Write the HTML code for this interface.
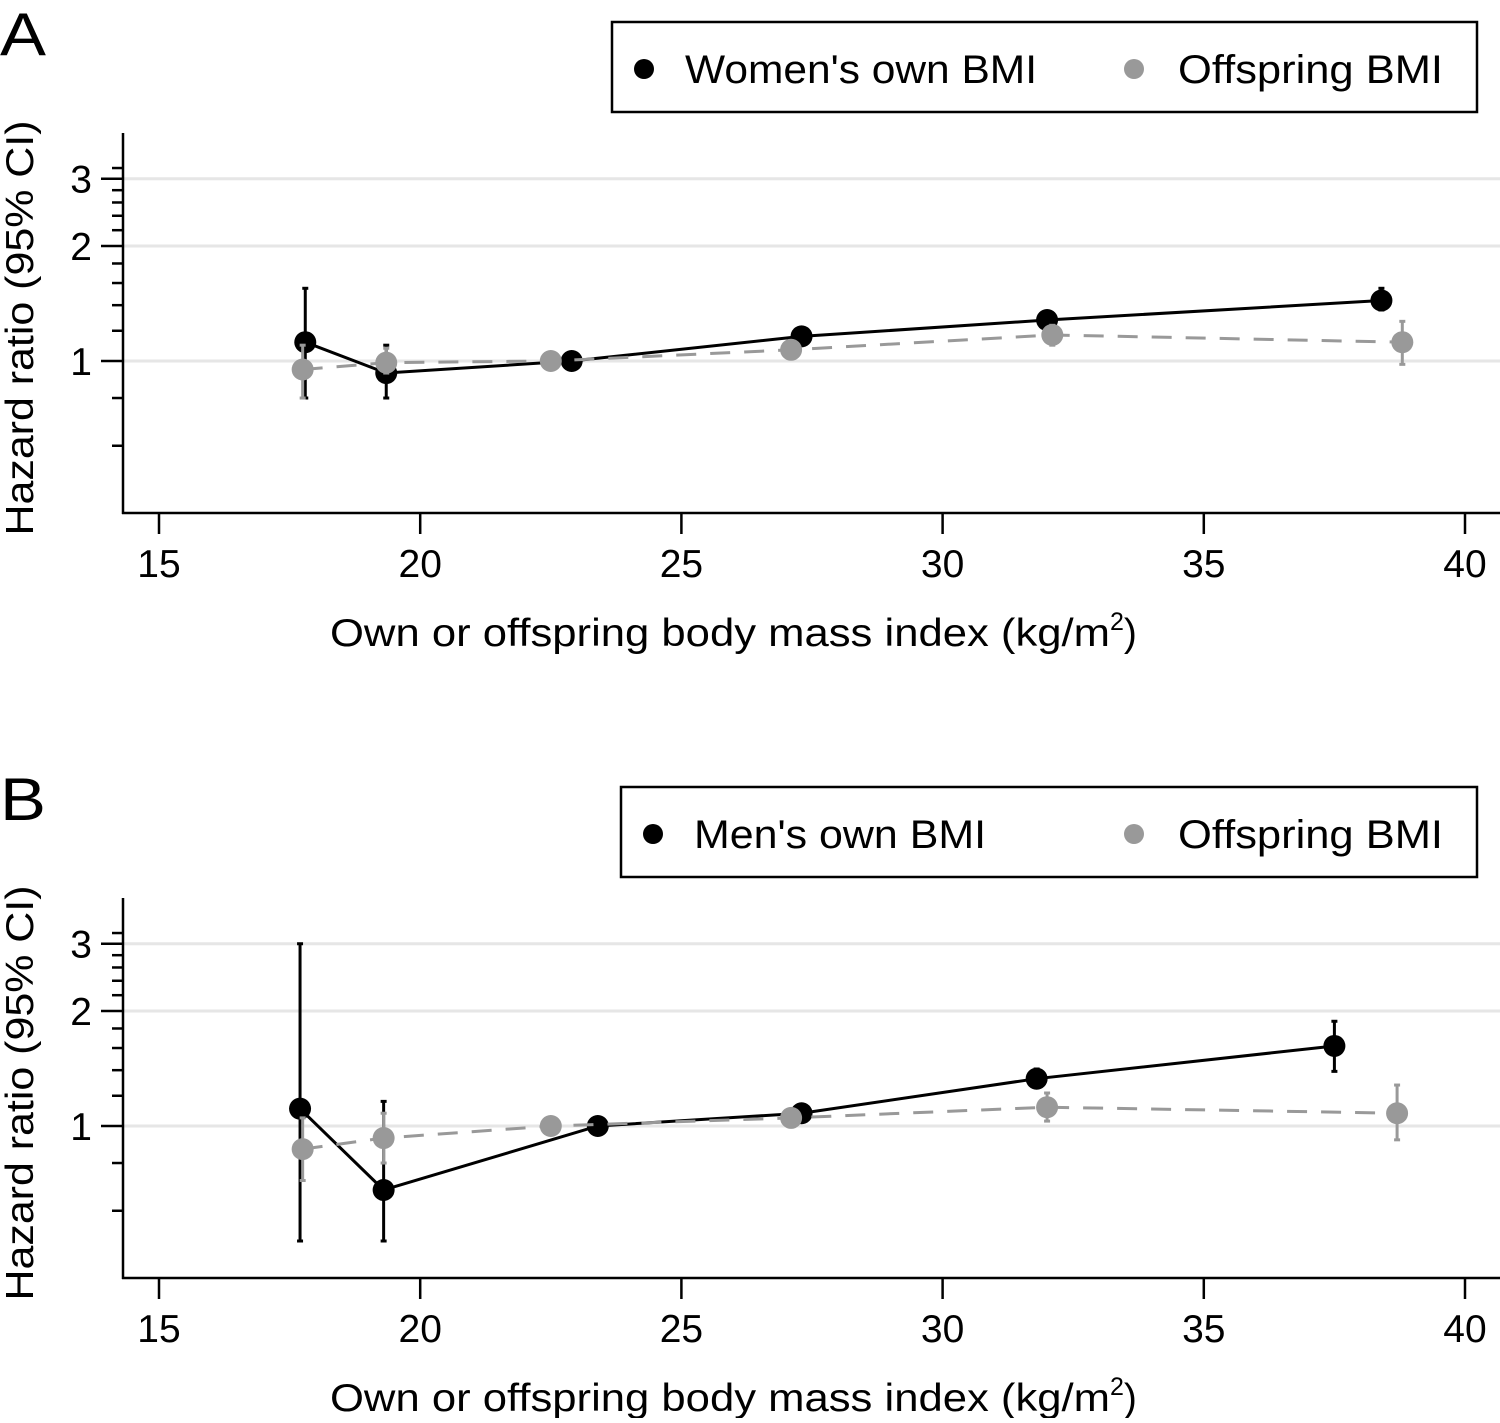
<!DOCTYPE html>
<html><head><meta charset="utf-8"><style>
body{margin:0;background:#fff;}
svg text{font-family:"Liberation Sans",sans-serif;fill:#000;}
</style></head><body>
<svg id="chart" width="1500" height="1418" xmlns="http://www.w3.org/2000/svg"></svg>
<script>
const xTicks=[15,20,25,30,35,40];
const yTicks=[1,2,3];
const yMinor=[0.6,0.8,1.2,1.4,1.6,1.8,2.2,2.4,2.6,2.8,3.2];
const aOwnX=[17.8,19.35,22.9,27.3,32.0,38.4];
const aOwnY=[1.12,0.93,1.0,1.16,1.28,1.44];
const aOwnLo=[0.8,0.8,1.0,1.13,1.23,1.36];
const aOwnHi=[1.55,1.1,1.0,1.19,1.34,1.55];
const aOffX=[17.75,19.35,22.5,27.1,32.1,38.8];
const aOffY=[0.95,0.99,1.0,1.07,1.17,1.12];
const aOffLo=[0.8,0.93,1.0,1.05,1.1,0.98];
const aOffHi=[1.1,1.08,1.0,1.09,1.24,1.27];
const bOwnX=[17.7,19.3,23.4,27.3,31.8,37.5];
const bOwnY=[1.11,0.68,1.0,1.08,1.33,1.62];
const bOwnLo=[0.5,0.5,1.0,1.04,1.26,1.39];
const bOwnHi=[3.0,1.16,1.0,1.12,1.41,1.88];
const bOffX=[17.75,19.3,22.5,27.1,32.0,38.7];
const bOffY=[0.87,0.93,1.0,1.05,1.12,1.08];
const bOffLo=[0.72,0.8,1.0,1.03,1.03,0.92];
const bOffHi=[1.05,1.08,1.0,1.08,1.22,1.28];

const svg=document.getElementById('chart');
const NS='http://www.w3.org/2000/svg';
function mk(tag,attrs,parent,txt){const e=document.createElementNS(NS,tag);for(const k in attrs)e.setAttribute(k,attrs[k]);if(txt!==undefined)e.textContent=txt;(parent||svg).appendChild(e);return e;}

function panel(off,letter,ownLabel,ownLen,ownX,ownY,ownLo,ownHi,offX,offY,offLo,offHi,legX){
  const g=mk('g',{});
  
  
  const xs=v=>159+(v-15)*52.24;
  const ys=v=>off+361-Math.log10(v)*382;
  const pl=mk('text',{x:0,y:off+55,'font-size':60,textLength:46,lengthAdjust:'spacingAndGlyphs'},g,letter);
  
  const lg=mk('g',{},g);
  
  mk('rect',{x:legX,y:off+22,width:1477-legX,height:90,fill:'#fff',stroke:'#000','stroke-width':2.5},lg);
  const cx1=legX+32;
  mk('circle',{cx:cx1,cy:off+69,r:10,fill:'#000'},lg);
  const t1=mk('text',{x:cx1+41,y:off+83,'font-size':40,textLength:ownLen,lengthAdjust:'spacingAndGlyphs'},lg,ownLabel);
  
  mk('circle',{cx:1134,cy:off+69,r:10,fill:'#999'},lg);
  const t2=mk('text',{x:1178,y:off+83,'font-size':40,textLength:265,lengthAdjust:'spacingAndGlyphs'},lg,'Offspring BMI');
  
  yTicks.forEach(v=>{const l=mk('line',{x1:124,x2:1500,y1:ys(v),y2:ys(v),stroke:'#e6e6e6','stroke-width':3},g);
    });
  const ya=mk('line',{x1:123,x2:123,y1:off+133,y2:off+514,stroke:'#000','stroke-width':2.5},g);
  
  const xa=mk('line',{x1:122,x2:1500,y1:off+513,y2:off+513,stroke:'#000','stroke-width':2.5},g);
  
  yTicks.forEach(v=>{mk('line',{x1:101,x2:123,y1:ys(v),y2:ys(v),stroke:'#000','stroke-width':2.5},g);
    const t=mk('text',{x:92,y:ys(v)+14,'font-size':39,'text-anchor':'end'},g,String(v));
    });
  yMinor.forEach(v=>mk('line',{x1:112,x2:123,y1:ys(v),y2:ys(v),stroke:'#000','stroke-width':2.5},g));
  xTicks.forEach(v=>{mk('line',{x1:xs(v),x2:xs(v),y1:off+513,y2:off+534,stroke:'#000','stroke-width':2.5},g);
    const t=mk('text',{x:xs(v),y:off+577,'font-size':39,'text-anchor':'middle'},g,String(v));
    });
  const xt=mk('text',{x:330,y:off+646,'font-size':39},g);
  
  xt.innerHTML='<tspan textLength="780" lengthAdjust="spacingAndGlyphs">Own or offspring body mass index (kg/m</tspan><tspan dy="-16" font-size="25">2</tspan><tspan dy="16">)</tspan>';
  const yt=mk('text',{x:0,y:0,'font-size':39,'text-anchor':'middle',textLength:415,lengthAdjust:'spacingAndGlyphs',transform:`translate(33,${off+328}) rotate(-90)`},g,'Hazard ratio (95% CI)');
  
  function series(X,Y,Lo,Hi,col,dash,name){
    const sg=mk('g',{},g);
    
    X.forEach((x,i)=>{if(Hi[i]!==Lo[i]){mk('line',{x1:xs(x),x2:xs(x),y1:ys(Lo[i]),y2:ys(Hi[i]),stroke:col,'stroke-width':3},sg);
      mk('line',{x1:xs(x)-3,x2:xs(x)+3,y1:ys(Lo[i]),y2:ys(Lo[i]),stroke:col,'stroke-width':3},sg);
      mk('line',{x1:xs(x)-3,x2:xs(x)+3,y1:ys(Hi[i]),y2:ys(Hi[i]),stroke:col,'stroke-width':3},sg);}});
    mk('polyline',{points:X.map((x,i)=>xs(x)+','+ys(Y[i])).join(' '),fill:'none',stroke:col,'stroke-width':3,'stroke-dasharray':dash},sg);
    X.forEach((x,i)=>{const c=mk('circle',{cx:xs(x),cy:ys(Y[i]),r:11,fill:col},sg);
      });
  }
  series(ownX,ownY,ownLo,ownHi,'#000','none','series-own-bmi');
  series(offX,offY,offLo,offHi,'#999','20 14','series-offspring-bmi');
}
panel(0,'A',"Women's own BMI",352,aOwnX,aOwnY,aOwnLo,aOwnHi,aOffX,aOffY,aOffLo,aOffHi,612);
panel(765,'B',"Men's own BMI",292,bOwnX,bOwnY,bOwnLo,bOwnHi,bOffX,bOffY,bOffLo,bOffHi,621);
</script>
</body></html>
